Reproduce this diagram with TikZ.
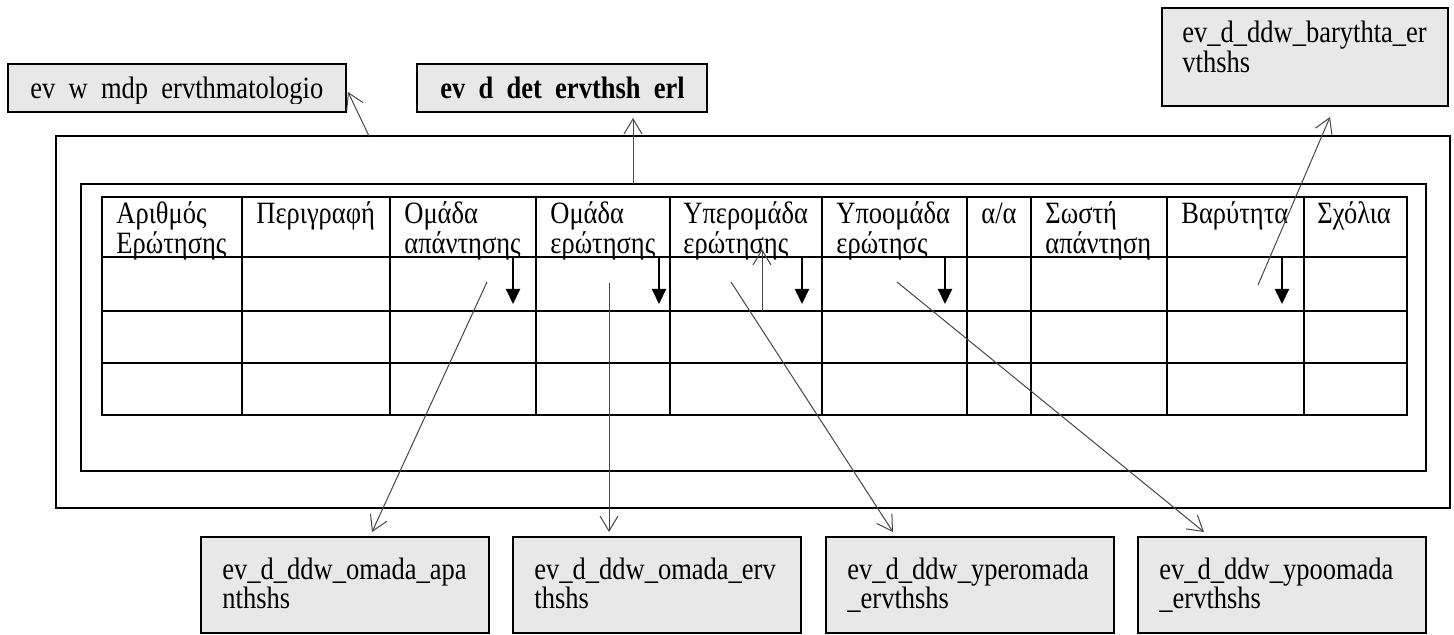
\documentclass[tikz,border=0pt]{standalone}
\usepackage{graphicx}
\usepackage{fontspec}
\setmainfont{Liberation Serif}
\usetikzlibrary{arrows.meta,calc}
\definecolor{boxgray}{RGB}{232,232,232}
\definecolor{linegray}{RGB}{70,70,70}
\newcommand\TwoL[2]{\scalebox{1}[1.17]{\begin{tabular}[t]{@{}l@{}}#1\\#2\end{tabular}}}
\newcommand\OneL[1]{\scalebox{1}[1.17]{#1}}
\begin{document}
\begin{tikzpicture}[x=0.5pt,y=-0.5pt,
  lbl/.style={draw=black,line width=1pt,fill=boxgray,inner sep=0pt,outer sep=0pt,anchor=north west},
  frm/.style={draw=black,line width=1pt,inner sep=0pt,outer sep=0pt,anchor=north west},
  txt/.style={inner sep=0pt,anchor=base west,font=\fontsize{13.25}{10.7}\selectfont},
  conn/.style={draw=linegray,line width=0.5pt,-{Straight Barb[length=7.5pt,width=9pt]}},
  blk/.style={draw=black,line width=1pt,-{Triangle[length=7.5pt,width=7pt]}},
  tbl/.style={draw=black,line width=1.25pt}]
\useasboundingbox (0,0) rectangle (1454,635);
\fill[white] (0,0) rectangle (1454,635);

% frames
\node[frm,minimum width=697pt,minimum height=186pt] (outer) at (56,136) {};
\node[frm,minimum width=672.5pt,minimum height=143.5pt] (inner) at (81,184) {};

% table
\draw[tbl] (102,197) rectangle (1407,415);
\foreach \yy in {257,311,363} \draw[tbl] (102,\yy) -- (1407,\yy);
\foreach \xx in {242,390,536,670,822,967,1031,1167,1304} \draw[tbl] (\xx,197) -- (\xx,415);

% header texts
\node[txt] (h1) at (116,224) {\TwoL{Αριθμός}{Ερώτησης}};
\node[txt] (h2) at (256,224) {\OneL{Περιγραφή}};
\node[txt] (h3) at (404,224) {\TwoL{Ομάδα}{απάντησης}};
\node[txt] (h4) at (550,224) {\TwoL{Ομάδα}{ερώτησης}};
\node[txt] (h5) at (683,224) {\TwoL{Υπερομάδα}{ερώτησης}};
\node[txt] (h6) at (836,224) {\TwoL{Υποομάδα}{ερώτησς}};
\node[txt] (h7) at (981,224) {\OneL{α/α}};
\node[txt] (h8) at (1045,224) {\TwoL{Σωστή}{απάντηση}};
\node[txt] (h9) at (1181,224) {\OneL{Βαρύτητα}};
\node[txt] (h10) at (1317,224) {\OneL{Σχόλια}};

% label boxes on top
\node[lbl,minimum width=169pt,minimum height=24pt] (M) at (8,64) {};
\begin{scope}
\clip (8,64) rectangle (346,104);
\node[txt] (Mt) at (30,99) {\OneL{\spaceskip=.5em\relax ev w mdp ervthmatologio}};
\end{scope}
\node[lbl,minimum width=145pt,minimum height=24pt] (D) at (417,64) {};
\begin{scope}
\clip (417,64) rectangle (707,104);
\node[txt,font=\fontsize{13.25}{10.7}\selectfont\bfseries] (Dt) at (440,99) {\OneL{\spaceskip=.5em\relax ev d det ervthsh erl}};
\end{scope}
\node[lbl,minimum width=143pt,minimum height=49pt] (BR) at (1162,8) {};
\node[txt] (BRt) at (1182,43) {\TwoL{ev\_d\_ddw\_barythta\_er}{vthshs}};

% label boxes at bottom
\node[lbl,minimum width=144pt,minimum height=48pt] (B1) at (201,537) {};
\node[txt] (B1t) at (222,579) {\TwoL{ev\_d\_ddw\_omada\_apa}{nthshs}};
\node[lbl,minimum width=144pt,minimum height=48pt] (B2) at (513,537) {};
\node[txt] (B2t) at (534,579) {\TwoL{ev\_d\_ddw\_omada\_erv}{thshs}};
\node[lbl,minimum width=144pt,minimum height=48pt] (B3) at (826,537) {};
\node[txt] (B3t) at (847,579) {\TwoL{ev\_d\_ddw\_yperomada}{\_ervthshs}};
\node[lbl,minimum width=144pt,minimum height=48pt] (B4) at (1138,537) {};
\node[txt] (B4t) at (1159,579) {\TwoL{ev\_d\_ddw\_ypoomada}{\_ervthshs}};

% thin connectors
\coordinate (s1) at (487,282);
\draw[conn] (s1) -- ($(B1.north west)+(171,-5)$);
\coordinate (s2) at (609,283);
\draw[conn] (s2) -- ($(B2.north west)+(96,-5)$);
\coordinate (s3) at (731,282);
\draw[conn] (s3) -- ($(B3.north west)+(67,-5)$);
\coordinate (s4) at (897,282);
\draw[conn] (s4) -- ($(B4.north west)+(66,-5)$);
\coordinate (u1) at (762,311);
\coordinate (u2) at (762,249);
\draw[conn] (u1) -- (u2);
\coordinate (s6) at (1258,285);
\draw[conn] (s6) -- ($(BR.south west)+(168,11)$);
\draw[conn] ($(inner.north west)+(552,0)$) -- ($(D.south west)+(216,6)$);
\draw[conn] ($(outer.north west)+(313,0)$) -- ($(M.north east)+(2,28)$);

% thick black arrows in first row
\foreach \xx [count=\i] in {513,659,802,945,1282} {
  \coordinate (ka\i) at (\xx,258);
  \coordinate (kb\i) at (\xx,304);
  \draw[blk] (ka\i) -- (kb\i);
}
\end{tikzpicture}
\end{document}
